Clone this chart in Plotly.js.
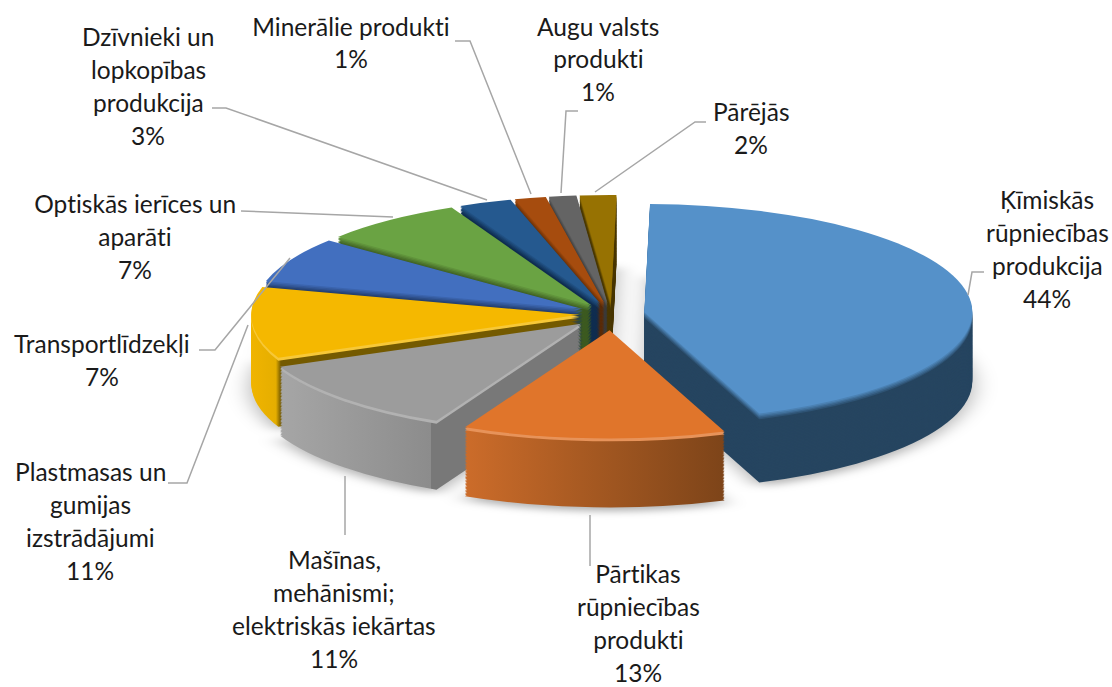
<!DOCTYPE html>
<html><head><meta charset="utf-8">
<script src="https://cdn.plot.ly/plotly-3.0.1.min.js"></script>
<style>html,body{margin:0;padding:0;background:#fff;overflow:hidden}#chart{width:1112px;height:687px}
#chart text{font-variant-ligatures:none;font-feature-settings:"liga" 0}</style>
</head><body><div id="chart"></div>
<script>
// ---- data ----
const categories = ['Ķīmiskās<br>rūpniecības<br>produkcija','Pārtikas<br>rūpniecības<br>produkti','Mašīnas,<br>mehānismi;<br>elektriskās iekārtas','Plastmasas un<br>gumijas<br>izstrādājumi','Transportlīdzekļi','Optiskās ierīces un<br>aparāti','Dzīvnieki un<br>lopkopības<br>produkcija','Minerālie produkti','Augu valsts<br>produkti','Pārējās'];
const values = [45.5, 13.4, 11.6, 11, 7, 7.3, 2.7, 1.6, 1.4, 1.85];
const percentLabels = ['44%','13%','11%','11%','7%','7%','3%','1%','1%','2%'];
const pulls = [0.1, 0.15, 0.13, 0.1, 0.1, 0.1, 0.1, 0.1, 0.1, 0.1];
const topColors  = ['#5591c9','#e0752b','#9c9c9c','#f5b800','#426fbf','#6aa343','#25598f','#a64c0e','#646464','#977202'];
const wallColors = ['#264560','#a85a22','#8f8f8f','#745a00','#1f3864','#3c5a20','#0f2d50','#5c2a05','#3a3a3a','#4a3800'];

// ---- layout of labels (pixels in the 1112x687 picture) ----
const labelCentres = [1047,638,334,90,102,135,148,351,598,751];
const labelTops    = [199,573,559,471,343,203,36,26,26,112];
const lineStep = 33;
const leaders = [
 [[968,295],[972,272],[984,272]],
 [[590,515],[590,566]],
 [[345,476],[345,535]],
 [[248,325],[187,483],[168,483]],
 [[290,258],[215,350],[199,350]],
 [[393,217],[241,211]],
 [[487,200],[226,108],[212,108]],
 [[531,194],[470,41],[455,41]],
 [[561,193],[566,111],[578,111]],
 [[595,192],[695,122],[706,122]]
];

const W = 1112, H = 687;
const px = x => x / W, py = y => 1 - y / H;

// geometry of the extruded, squashed pie
const pieSize = 520, maxPull = Math.max(...pulls), layers = 48, layerStep = 3;
const targetRx = 328, flatten = 0.33, centre = [612, 314];
const pieRadius = pieSize / 2 / (1 + maxPull);
const sx = targetRx / pieRadius, sy = sx * flatten;

function hex(c){return [1,3,5].map(i=>parseInt(c.substr(i,2),16));}
function mix(a,b,t){const A=hex(a),B=hex(b);return 'rgb('+A.map((v,i)=>Math.round(v+(B[i]-v)*t)).join(',')+')';}
const rimmed = [1,2,3];

const traces = [];
for (let i = layers; i >= 0; i--) {           // bottom layer first, top face last
  const t = i === 0 ? 0 : Math.min(1, i / 5);
  const colors = topColors.map((c,k)=> {
    if (i===0) return c;
    if (i<=2 && rimmed.includes(k)) return mix(c,'#ffffff',0.22);
    return mix(c, wallColors[k], t);
  });
  const yTop = 1 - (4 + i * layerStep) / H;
  traces.push({
    type:'pie', values:values, labels:categories, sort:false, direction:'clockwise',
    rotation:1, pull:pulls, textinfo:'none', hoverinfo:'skip', showlegend:false,
    marker:{colors:colors, line:{width:0}},
    domain:{x:[0.5-pieSize/2/W,0.5+pieSize/2/W], y:[yTop-pieSize/H, yTop]}
  });
}

const annotations = [];
categories.forEach((c,k)=>{
  const lines = c.split('<br>').concat(percentLabels[k]);
  lines.forEach((ln,j)=>annotations.push({
    text:ln, xref:'paper', yref:'paper', showarrow:false,
    x:px(labelCentres[k]), y:py(labelTops[k]+j*lineStep), xanchor:'center', yanchor:'middle'
  }));
});
const shapes = leaders.map(pts=>({
  type:'path', xref:'paper', yref:'paper',
  path:pts.map((p,i)=>(i?'L':'M')+px(p[0])+' '+py(p[1])).join(' '),
  line:{color:'#a6a6a6',width:1.5}
}));

Plotly.newPlot('chart',traces,{
  width:W,height:H,margin:{l:0,r:0,t:0,b:0},paper_bgcolor:'#fff',plot_bgcolor:'#fff',
  font:{family:'Lato, sans-serif',size:24.5,color:'#1a1a1a'},
  annotations:annotations,shapes:shapes
},{displayModeBar:false,staticPlot:true}).then(()=>{
  const svg=document.querySelector('#chart svg.main-svg');
  const layer=document.querySelector('#chart .pielayer');
  const cxp=W/2, cyp=4+pieSize/2;
  layer.setAttribute('transform',`translate(${centre[0]},${centre[1]}) scale(${sx},${sy}) translate(${-cxp},${-cyp})`);
  // horizontal shading of the side walls
  const NS='http://www.w3.org/2000/svg';
  const defs=document.createElementNS(NS,'defs');
  const grads={o:[[0,'#cc6c2a'],[0.45,'#a85a22'],[1,'#7d4419']],
               g:[[0,'#a6a6a6'],[0.5,'#8c8c8c'],[0.5,'#787878'],[1,'#787878']],
               y:[[0,'#f0b400'],[0.075,'#e5ae00'],[0.09,'#745a00'],[1,'#745a00']]};
  Object.keys(grads).forEach(id=>{
    const g=document.createElementNS(NS,'linearGradient');g.setAttribute('id','wall'+id);
    grads[id].forEach(s=>{const e=document.createElementNS(NS,'stop');e.setAttribute('offset',s[0]);e.setAttribute('stop-color',s[1]);g.appendChild(e);});
    defs.appendChild(g);
  });
  svg.insertBefore(defs,svg.firstChild);
  const groups=layer.querySelectorAll('.trace');
  groups.forEach((g,idx)=>{
    if(idx>=groups.length-3) return;
    const slices=g.querySelectorAll('.slice path.surface');
    slices[1].style.fill='url(#wallo)';
    slices[2].style.fill='url(#wallg)';
    slices[3].style.fill='url(#wally)';
  });
  groups[0].style.filter='drop-shadow(0 8px 8px rgba(0,0,0,0.3))';
});
</script></body></html>
